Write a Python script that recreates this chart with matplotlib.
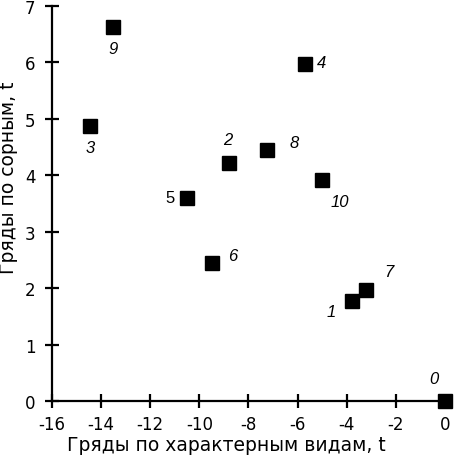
import matplotlib
matplotlib.use("Agg")
import matplotlib.pyplot as plt

plt.rcParams['font.family'] = ['DejaVu Sans']
plt.rcParams['axes.unicode_minus'] = False

# plot numbers and their coordinates
labels = ['0', '1', '2', '3', '4', '5', '6', '7', '8', '9', '10']
x_vals = [0.0, -3.8, -8.8, -14.45, -5.7, -10.5, -9.5, -3.2, -7.25, -13.5, -5.0]
y_vals = [0.0, 1.78, 4.22, 4.88, 5.97, 3.6, 2.45, 1.97, 4.45, 6.62, 3.92]
# label offsets in points
offsets = {'0': (-8, 16), '1': (-15, -8), '2': (-1, 17), '3': (0, -16),
           '4': (12, 1), '5': (-12, 0), '6': (15, 5), '7': (16, 13),
           '8': (20, 5), '9': (0, -15), '10': (13, -16)}

fig = plt.figure(figsize=(4.54, 4.60), dpi=100)
ax = fig.add_axes([0.1145, 0.126, 0.8655, 0.859])

ax.plot(x_vals, y_vals, 's', color='black', markersize=10, clip_on=False, zorder=3)
for lab, x, y in zip(labels, x_vals, y_vals):
    style = 'normal' if lab == '5' else 'italic'
    ax.annotate(lab, (x, y), xytext=offsets[lab], textcoords='offset points',
                ha='center', va='center', fontsize=12, fontstyle=style,
                family='Liberation Sans')

ax.set_xlim(-16, 0)
ax.set_ylim(0, 7)
ax.set_xticks(range(-16, 1, 2))
ax.set_yticks(range(0, 8))
ax.spines['top'].set_visible(False)
ax.spines['right'].set_visible(False)
ax.spines['left'].set_linewidth(1.6)
ax.spines['bottom'].set_linewidth(1.6)
ax.tick_params(direction='inout', length=10, width=1.6, labelsize=12)
ax.tick_params(axis='x', pad=5)
ax.tick_params(axis='y', pad=7)
ax.set_xlabel('Гряды по характерным видам, t', fontsize=13.5)
ax.set_ylabel('Гряды по сорным, t', fontsize=13.5)
ax.xaxis.set_label_coords(0.445, -0.085)
ax.yaxis.set_label_coords(-0.086, 0.567)

fig.savefig('out.png', dpi=100)
